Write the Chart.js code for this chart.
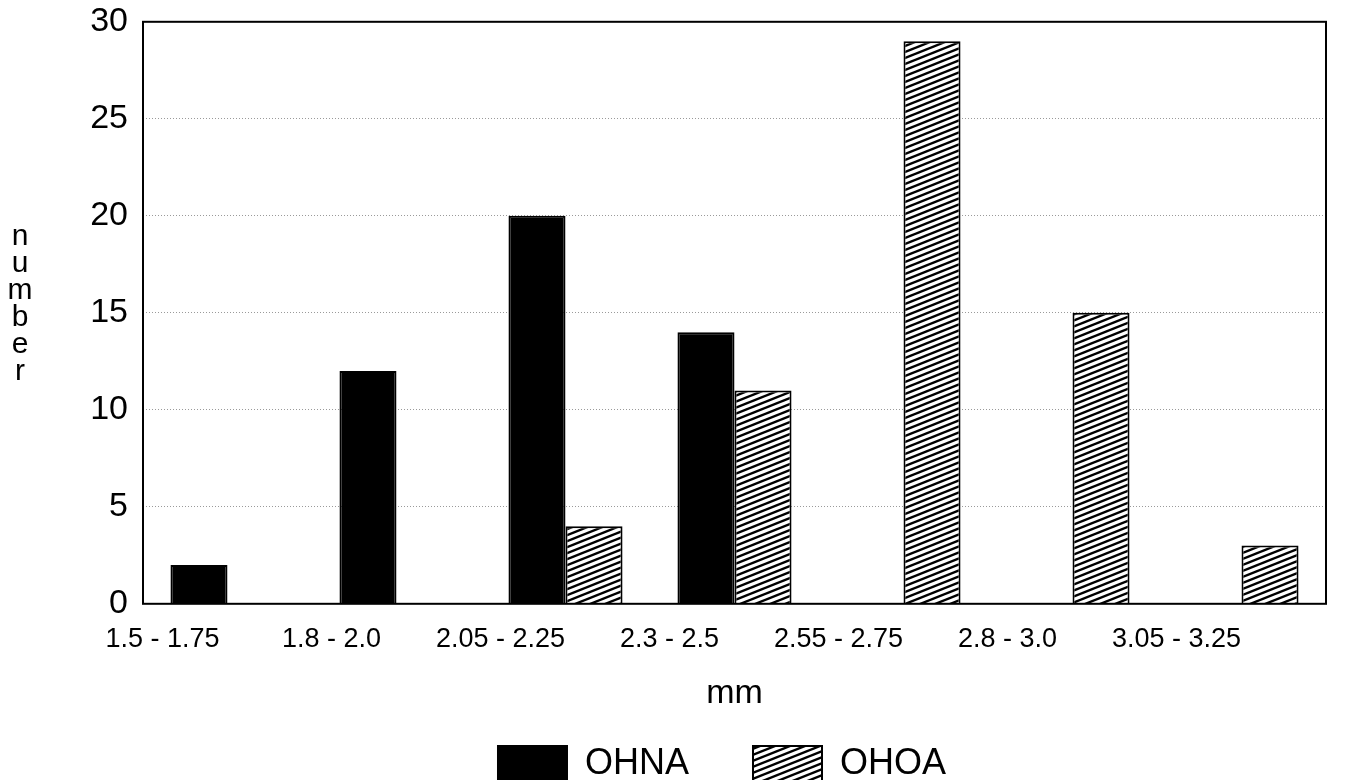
<!DOCTYPE html>
<html><head><meta charset="utf-8">
<script src="https://cdn.jsdelivr.net/npm/chart.js@4.4.0/dist/chart.umd.min.js"></script>
<style>html,body{margin:0;padding:0;overflow:hidden;background:#fff}</style>
</head><body>
<canvas id="c" width="1345" height="780"></canvas>
<script>
const categories = ['1.5 - 1.75','1.8 - 2.0','2.05 - 2.25','2.3 - 2.5','2.55 - 2.75','2.8 - 3.0','3.05 - 3.25'];
const ohnaValues = [2, 12, 20, 14, 0, 0, 0];
const ohoaValues = [0, 0, 4, 11, 29, 15, 3];
const seriesNames = ['OHNA', 'OHOA'];
const yTitle = 'number';
const xTitle = 'mm';

function makeHatch() {
  const c = document.createElement('canvas');
  c.width = 15; c.height = 6;
  const g = c.getContext('2d');
  g.fillStyle = '#fff'; g.fillRect(0, 0, 15, 6);
  g.strokeStyle = '#000'; g.lineWidth = 2.4;
  for (const dy of [-6, 0, 6]) {
    g.beginPath(); g.moveTo(-15, 12 + dy); g.lineTo(30, -6 + dy); g.stroke();
  }
  return g.createPattern(c, 'repeat');
}
const ctx = document.getElementById('c').getContext('2d');
const hatch = makeHatch();
const FONT = '"Liberation Sans", Arial, sans-serif';

const framePlugin = {
  id: 'frame',
  afterDatasetsDraw(chart) {
    const a = chart.chartArea, g = chart.ctx;
    g.save(); g.strokeStyle = '#000'; g.lineWidth = 2;
    g.strokeRect(a.left, a.top, a.right - a.left, a.bottom - a.top);
    g.restore();
  },
  afterDraw(chart) {
    const g = chart.ctx;
    g.save(); g.fillStyle = '#000'; g.font = '30px ' + FONT;
    g.textAlign = 'center'; g.textBaseline = 'middle';
    const letters = yTitle.split('');
    letters.forEach((ch, i) => g.fillText(ch, 20, 237 + i * 27));
    g.restore();
  }
};

new Chart(ctx, {
  type: 'bar',
  data: {
    labels: categories,
    datasets: [
      { label: seriesNames[0], data: ohnaValues, backgroundColor: '#000', borderColor: '#000', borderWidth: 2,
        categoryPercentage: 0.675, barPercentage: 1.0 },
      { label: seriesNames[1], data: ohoaValues, backgroundColor: hatch, borderColor: '#000', borderWidth: 2,
        categoryPercentage: 0.675, barPercentage: 1.0 }
    ]
  },
  options: {
    responsive: false, animation: false, devicePixelRatio: 1,
    layout: { padding: { left: 118, right: 19, top: 0, bottom: -12 } },
    plugins: {
      tooltip: { enabled: false },
      legend: {
        position: 'bottom',
        labels: { boxWidth: 69, boxHeight: 36, padding: 64, color: '#000', font: { family: FONT, size: 36 } }
      }
    },
    scales: {
      x: {
        grid: { display: false, drawTicks: false },
        border: { display: false },
        ticks: { color: '#000', font: { family: FONT, size: 27 }, padding: 20, labelOffset: -65, maxRotation: 0, autoSkip: false },
        title: { display: true, text: xTitle, color: '#000', font: { family: FONT, size: 34 }, padding: { top: -3, bottom: -32 } }
      },
      y: {
        min: 0, max: 30,
        afterFit(s) { s.width = 25; s._computeLabelArea = () => undefined; },
        grid: { color: '#9a9a9a', lineWidth: 1, drawTicks: false },
        border: { display: false, dash: [1, 2] },
        ticks: { stepSize: 5, color: '#000', font: { family: FONT, size: 34, lineHeight: 0.4 }, padding: 15 }
      }
    }
  },
  plugins: [framePlugin]
});
</script>
</body></html>
